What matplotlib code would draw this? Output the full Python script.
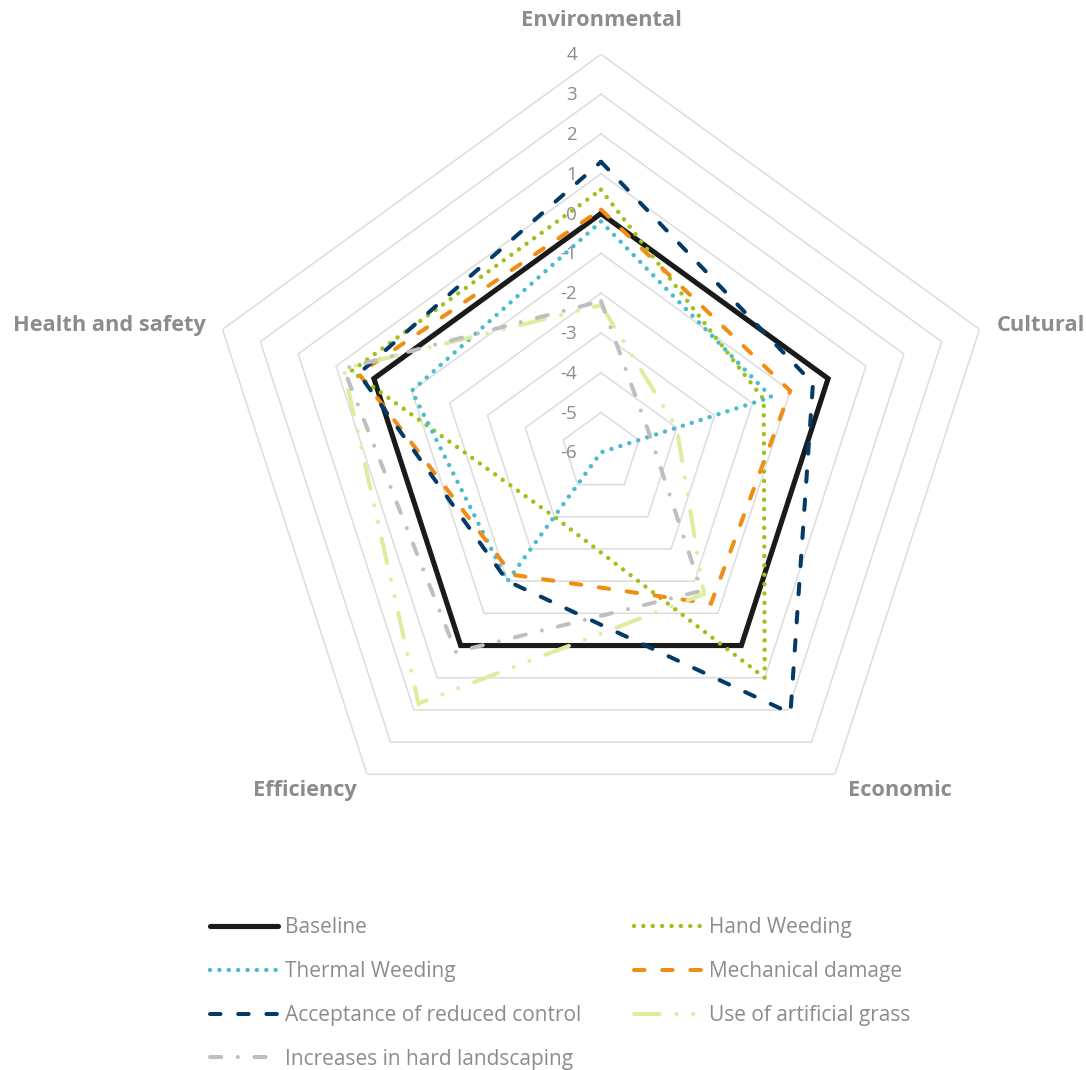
import numpy as np
import matplotlib.pyplot as plt

plt.rcParams['font.family'] = ['Open Sans', 'DejaVu Sans']

categories = ['Environmental', 'Cultural', 'Economic', 'Efficiency', 'Health and safety']

baseline = [0, 0, 0, 0, 0]
hand_weeding = [0.6, -1.7, 1.0, -4.0, 0.6]
thermal_weeding = [-0.2, -1.5, -6.0, -2.0, -1.0]
mechanical_damage = [0.1, -1.0, -1.3, -2.2, 0.4]
reduced_control = [1.3, -0.4, 2.1, -2.0, 0.4]
artificial_grass = [-2.3, -4.0, -1.6, 1.8, 0.8]
hard_landscaping = [-2.2, -4.7, -1.7, 0.2, 0.8]

ring_values = list(range(-6, 5))

text_grey = '#8C8C8C'
grid_grey = '#DCDCDC'

# label, values, colour, linewidth, dash pattern (in linewidths)
series = [
    ('Baseline', baseline, '#1A1A1A', 3.7, '-'),
    ('Hand Weeding', hand_weeding, '#9DC31B', 3.2, (0, (0.01, 2.1))),
    ('Thermal Weeding', thermal_weeding, '#4BBCCC', 3.2, (0, (0.01, 2.1))),
    ('Mechanical damage', mechanical_damage, '#F28C12', 2.9, (0, (2.6, 4.4))),
    ('Acceptance of reduced control', reduced_control, '#043A66', 2.9, (0, (2.6, 4.4))),
    ('Use of artificial grass', artificial_grass, '#DDED9E', 2.9,
     (0, (6.3, 4.2, 0.01, 4.2, 0.01, 4.2))),
    ('Increases in hard landscaping', hard_landscaping, '#BFBFBF', 2.9,
     (0, (2.8, 4.1, 0.01, 4.1))),
]

n = len(categories)
theta = np.linspace(0, 2 * np.pi, n, endpoint=False)
theta_closed = np.append(theta, theta[0])

fig = plt.figure(figsize=(10.86, 10.70), dpi=100)
ax = fig.add_axes([0.1869, 0.2053, 0.7330, 0.7439], projection='polar')
ax.set_theta_offset(np.pi / 2)
ax.set_theta_direction(-1)
ax.set_ylim(-6, 4)
ax.set_xticks([])
ax.set_yticks([])
ax.grid(False)
ax.spines['polar'].set_visible(False)
ax.patch.set_visible(False)

# pentagon gridlines
for v in ring_values[1:]:
    ax.plot(theta_closed, [v] * (n + 1), color=grid_grey, lw=1.1, zorder=1)

# value labels up the first axis
for v in ring_values:
    ax.annotate(str(v), xy=(0, v), xytext=(-24, -1), textcoords='offset pixels',
                ha='right', va='center', fontsize=13.5, color=text_grey)

# category labels
label_offsets = [(0, 34, 'center'), (17, 4, 'left'), (13, -16, 'left'),
                 (-10, -16, 'right'), (-17, 4, 'right')]
for t, name, (dx, dy, ha) in zip(theta, categories, label_offsets):
    ax.annotate(name, xy=(t, 4), xytext=(dx, dy), textcoords='offset pixels',
                ha=ha, va='center', fontsize=15.7, fontweight='bold', color=text_grey)

handles = {}
for i, (label, vals, color, lw, ls) in enumerate(series):
    vals_closed = list(vals) + [vals[0]]
    line, = ax.plot(theta_closed, vals_closed, color=color, lw=lw, linestyle=ls,
                    dash_capstyle='round', solid_capstyle='round', solid_joinstyle='miter',
                    dash_joinstyle='miter', zorder=3 + i, clip_on=False)
    handles[label] = line

# legend reads across rows, matplotlib fills down columns
order = ['Baseline', 'Thermal Weeding', 'Acceptance of reduced control',
         'Increases in hard landscaping', 'Hand Weeding', 'Mechanical damage',
         'Use of artificial grass']
leg = fig.legend([handles[k] for k in order], order, loc='upper left',
                 bbox_to_anchor=(210 / 1086, 1 - 917 / 1070), ncol=2, frameon=False,
                 fontsize=15, handlelength=3.27, handletextpad=0.33,
                 columnspacing=2.55, labelspacing=1.1, borderpad=0, borderaxespad=0)
for txt in leg.get_texts():
    txt.set_color(text_grey)

fig.savefig('out.png', dpi=100)
